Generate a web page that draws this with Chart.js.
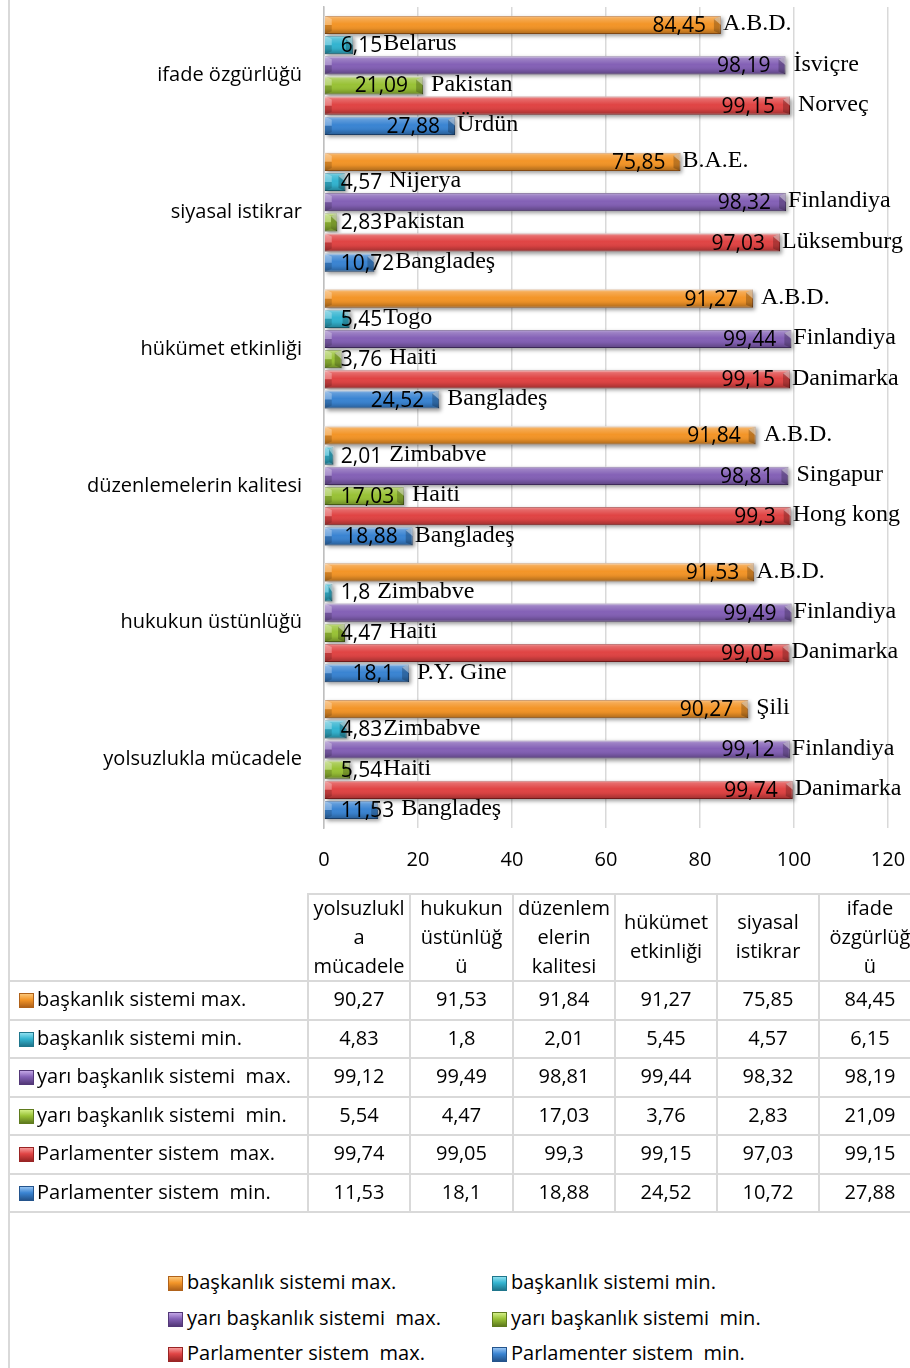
<!DOCTYPE html>
<html>
<head>
<meta charset="utf-8">
<script src="https://cdn.jsdelivr.net/npm/chart.js@4.4.1/dist/chart.umd.min.js"></script>
<style>
body { margin: 0; background: #fff; }
#page { position: relative; width: 910px; height: 1368px; overflow: hidden; font-family: "Open Sans", sans-serif; color: #000; }
#chartBox { position: absolute; left: 0; top: 0; width: 910px; height: 880px; }
.ln { position: absolute; background: #D9D9D9; }
.txt { position: absolute; font-size: 20px; white-space: pre; line-height: 24px; }
.mk { position: absolute; width: 13px; height: 13px; }
</style>
</head>
<body>
<div id="page">
  <div id="chartBox"><canvas id="chart"></canvas></div>
</div>
<script>
// categories in table order (chart shows them bottom -> top)
var categories = ["yolsuzlukla mücadele", "hukukun üstünlüğü", "düzenlemelerin kalitesi", "hükümet etkinliği", "siyasal istikrar", "ifade özgürlüğü"];
var headerLines = [["yolsuzlukl", "a", "mücadele"], ["hukukun", "üstünlüğ", "ü"], ["düzenlem", "elerin", "kalitesi"], ["hükümet", "etkinliği"], ["siyasal", "istikrar"], ["ifade", "özgürlüğ", "ü"]];
var seriesNames = ["başkanlık sistemi max.", "başkanlık sistemi min.", "yarı başkanlık sistemi  max.", "yarı başkanlık sistemi  min.", "Parlamenter sistem  max.", "Parlamenter sistem  min."];

var baskanlikMax = [90.27, 91.53, 91.84, 91.27, 75.85, 84.45];
var baskanlikMin = [4.83, 1.8, 2.01, 5.45, 4.57, 6.15];
var yariMax = [99.12, 99.49, 98.81, 99.44, 98.32, 98.19];
var yariMin = [5.54, 4.47, 17.03, 3.76, 2.83, 21.09];
var parlMax = [99.74, 99.05, 99.3, 99.15, 97.03, 99.15];
var parlMin = [11.53, 18.1, 18.88, 24.52, 10.72, 27.88];

var baskanlikMaxUlke = [" Şili", "A.B.D.", " A.B.D.", " A.B.D.", "B.A.E.", "A.B.D."];
var baskanlikMinUlke = ["Zimbabve", " Zimbabve", " Zimbabve", "Togo", " Nijerya", "Belarus"];
var yariMaxUlke = ["Finlandiya", "Finlandiya", " Singapur", "Finlandiya", "Finlandiya", " İsviçre"];
var yariMinUlke = ["Haiti", " Haiti", " Haiti", " Haiti", "Pakistan", " Pakistan"];
var parlMaxUlke = ["Danimarka", "Danimarka", "Hong kong", "Danimarka", "Lüksemburg", " Norveç"];
var parlMinUlke = [" Bangladeş", " P.Y. Gine", "Bangladeş", " Bangladeş", "Bangladeş", "Ürdün"];

var xTicks = [0, 20, 40, 60, 80, 100, 120];

var seriesValues = [baskanlikMax, baskanlikMin, yariMax, yariMin, parlMax, parlMin];
var seriesCountries = [baskanlikMaxUlke, baskanlikMinUlke, yariMaxUlke, yariMinUlke, parlMaxUlke, parlMinUlke];

var colors = ['#F39528', '#33B4D0', '#8461B6', '#99C236', '#E04444', '#3A84D2'];
var darks = ['#B0621A', '#1F768C', '#533878', '#5F7B1E', '#992424', '#24548C'];
var lights = ['#FBC678', '#8EE0F0', '#C3A6E6', '#D2EE86', '#F59A9A', '#95C3F2'];

function fmt(v) { return String(v).replace('.', ','); }

function eachBar(chart, fn) {
  chart.data.datasets.forEach(function (ds, di) {
    var meta = chart.getDatasetMeta(di);
    meta.data.forEach(function (bar, i) {
      var p = bar.getProps(['x', 'y', 'base', 'height'], true);
      fn(p, di, i);
    });
  });
}

var barLook = {
  id: 'barLook',
  beforeDatasetsDraw: function (chart) {
    var c = chart.ctx;
    c.save();
    c.shadowColor = 'rgba(0,0,0,0.4)';
    c.shadowBlur = 4;
    c.shadowOffsetX = 2;
    c.shadowOffsetY = 2;
    c.fillStyle = '#fff';
    eachBar(chart, function (p) {
      c.fillRect(p.base, p.y - p.height / 2, p.x - p.base, p.height);
    });
    c.restore();
  },
  afterDatasetsDraw: function (chart) {
    var c = chart.ctx;
    c.save();
    eachBar(chart, function (p, di, i) {
      var top = p.y - p.height / 2, bot = p.y + p.height / 2, w = p.x - p.base;
      var g = c.createLinearGradient(0, top, 0, bot);
      g.addColorStop(0, 'rgba(255,255,255,0.45)');
      g.addColorStop(0.15, 'rgba(255,255,255,0.2)');
      g.addColorStop(0.45, 'rgba(255,255,255,0)');
      g.addColorStop(0.7, 'rgba(0,0,0,0.05)');
      g.addColorStop(1, 'rgba(0,0,0,0.3)');
      c.fillStyle = g;
      c.fillRect(p.base, top, w, p.height);
      var b = Math.min(7, w / 2);
      // right bevel
      c.fillStyle = 'rgba(0,0,0,0.22)';
      c.beginPath();
      c.moveTo(p.x - b, top + 3); c.lineTo(p.x, top); c.lineTo(p.x, bot); c.lineTo(p.x - b, bot - 3);
      c.closePath(); c.fill();
      c.fillStyle = 'rgba(255,255,255,0.4)';
      c.beginPath();
      c.moveTo(p.x - b, top + 3); c.lineTo(p.x, top); c.lineTo(p.x, p.y); c.closePath(); c.fill();
      // left bevel
      c.fillStyle = 'rgba(255,255,255,0.3)';
      c.beginPath();
      c.moveTo(p.base, top); c.lineTo(p.base + b, top + 3); c.lineTo(p.base + b, p.y); c.lineTo(p.base, p.y);
      c.closePath(); c.fill();
      c.fillStyle = 'rgba(0,0,0,0.15)';
      c.beginPath();
      c.moveTo(p.base, p.y); c.lineTo(p.base + b, p.y); c.lineTo(p.base + b, bot - 3); c.lineTo(p.base, bot);
      c.closePath(); c.fill();
    });
    // value labels + country names
    c.textBaseline = 'middle';
    c.textAlign = 'left';
    c.fillStyle = '#000';
    eachBar(chart, function (p, di, i) {
      var val = chart.data.datasets[di].data[i];
      var txt = fmt(val);
      c.font = '21px "Open Sans"';
      var w = c.measureText(txt).width;
      var left = Math.max(p.x - 15 - w, p.base + 16);
      c.fillText(txt, left, p.y + 1);
      var name = chart.data.datasets[di].countries[i];
      c.font = '24px "Liberation Serif"';
      c.fillText(name, Math.max(p.x + 2, left + w + 1), p.y - 1);
    });
    c.restore();
  }
};

var chartLabels = categories.slice().reverse();
var datasets = seriesValues.map(function (vals, k) {
  return {
    label: seriesNames[k],
    data: vals.slice().reverse(),
    countries: seriesCountries[k].slice().reverse(),
    backgroundColor: colors[k],
    borderColor: darks[k],
    borderWidth: 1,
    categoryPercentage: 0.885,
    barPercentage: 0.9
  };
});

new Chart(document.getElementById('chart'), {
  type: 'bar',
  data: { labels: chartLabels, datasets: datasets },
  plugins: [barLook],
  options: {
    indexAxis: 'y',
    responsive: true,
    maintainAspectRatio: false,
    animation: false,
    events: [],
    layout: { padding: { top: 7, right: 22, left: 0, bottom: 0 } },
    plugins: { legend: { display: false }, tooltip: { enabled: false } },
    scales: {
      x: {
        min: xTicks[0], max: xTicks[xTicks.length - 1],
        afterBuildTicks: function (s) { s.ticks = xTicks.map(function (v) { return { value: v }; }); },
        ticks: { color: '#000', font: { family: 'Open Sans', size: 20 }, padding: 20, maxRotation: 0 },
        grid: { color: '#D9D9D9', lineWidth: 1.5, drawTicks: false },
        border: { display: false },
        afterFit: function (s) { s.height = 52; s.paddingLeft = 0; s.paddingRight = 0; }
      },
      y: {
        ticks: { color: '#000', font: { family: 'Open Sans', size: 20 }, padding: 22 },
        grid: { display: false, drawTicks: false },
        border: { color: '#BFBFBF', width: 1.5 },
        afterFit: function (s) { s.width = 324; s.paddingTop = 0; s.paddingBottom = 0; }
      }
    }
  }
});

// data table and legend below the chart
var page = document.getElementById('page');
function add(cls, css, text) {
  var d = document.createElement('div');
  d.className = cls;
  d.style.cssText = css;
  if (text !== undefined) d.textContent = text;
  page.appendChild(d);
  return d;
}
function marker(x, y, k) {
  add('mk', 'left:' + x + 'px;top:' + y + 'px;border:1px solid ' + darks[k] +
    ';background:linear-gradient(to bottom,' + lights[k] + ' 0%,' + colors[k] + ' 45%,' + darks[k] + ' 100%);');
}

add('ln', 'left:8px;top:0;width:2px;height:1368px;');

var colX = [308, 410, 513, 615, 717, 819, 921];
var headTop = 893, headBot = 981, rowH = 38.5;
add('ln', 'left:308px;top:' + headTop + 'px;width:602px;height:2px;');
for (var r = 0; r <= seriesNames.length; r++) {
  add('ln', 'left:9px;top:' + (headBot + r * rowH - 1) + 'px;width:901px;height:2px;');
}
var tableBot = headBot + seriesNames.length * rowH;
for (var cI = 0; cI < colX.length - 1; cI++) {
  add('ln', 'left:' + (colX[cI] - 1) + 'px;top:' + headTop + 'px;width:2px;height:' + (tableBot - headTop) + 'px;');
}
headerLines.forEach(function (lines, j) {
  var h = lines.length * 29;
  var d = add('txt', 'left:' + colX[j] + 'px;width:' + (colX[j + 1] - colX[j]) + 'px;top:' +
    (headTop + (headBot - headTop - h) / 2 - 1) + 'px;text-align:center;line-height:29px;white-space:normal;');
  d.innerHTML = lines.join('<br>');
});
seriesNames.forEach(function (name, k) {
  var cy = headBot + k * rowH + rowH / 2;
  marker(19, cy - 7, k);
  add('txt', 'left:37px;top:' + (cy - 13) + 'px;', name);
  seriesValues[k].forEach(function (v, j) {
    add('txt', 'left:' + colX[j] + 'px;width:' + (colX[j + 1] - colX[j]) + 'px;top:' + (cy - 13) + 'px;text-align:center;', fmt(v));
  });
});

var legX = [168, 492], legY = [1283, 1319, 1354];
seriesNames.forEach(function (name, k) {
  var x = legX[k % 2], cy = legY[Math.floor(k / 2)];
  marker(x, cy - 7, k);
  add('txt', 'left:' + (x + 19) + 'px;top:' + (cy - 13) + 'px;', name);
});
</script>
</body>
</html>
